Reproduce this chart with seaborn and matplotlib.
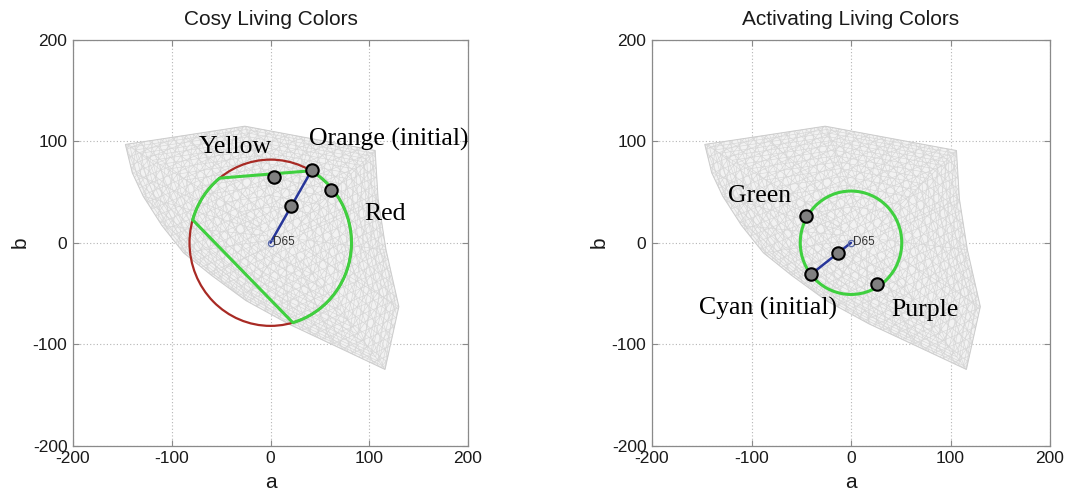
import numpy as np
import pandas as pd
import matplotlib
matplotlib.use("Agg")
import matplotlib.pyplot as plt
import seaborn as sns
from matplotlib.patches import Polygon, Arc, Circle
from matplotlib.collections import LineCollection

# ---------------- data (CIELAB a*, b*) ----------------
gamut_a = [-147, -86, -26, 40, 106, 109, 117, 130, 116, 66, 18, -25, -60, -88, -110, -129, -140]
gamut_b = [97, 106, 115, 103, 91, 43, -7, -63, -125, -102, -80, -57, -32, -10, 17, 46, 69]

# Cosy panel
cosy_pt_a = [4, 42, 61, 21]
cosy_pt_b = [65, 72, 52, 36]
cosy_label_text = ["Yellow", "Orange (initial)", "Red"]
cosy_radius = 82                 # red target hue circle
cosy_chords_deg = [[129, 60], [164, -74]]   # straight (gamut-clipped) parts of green path
cosy_initial = [42, 72]

# Activating panel
act_pt_a = [-45, -40, 26, -13]
act_pt_b = [26, -31, -41, -10]
act_label_text = ["Green", "Cyan (initial)", "Purple"]
act_radius = 51
act_initial = [-40, -31]

white_point = [0, 0]
ticks = [-200, -100, 0, 100, 200]

# ---------------- style ----------------
sns.set_style("white")
plt.rcParams["font.family"] = ["Liberation Sans", "DejaVu Sans"]
plt.rcParams["axes.unicode_minus"] = False

fig = plt.figure(figsize=(10.74, 4.93), dpi=100)
axL = fig.add_axes([73 / 1074, 47.5 / 493, 395 / 1074, 405.5 / 493])
axR = fig.add_axes([652 / 1074, 47.5 / 493, 398 / 1074, 405.5 / 493])

GRAY_POINT = "#808080"
GREEN = "#3fd03f"
RED = "#a82a24"
BLUE = "#27369a"
SERIF = ["Liberation Serif", "DejaVu Serif"]


def draw_gamut(ax):
    B = np.column_stack([gamut_a, gamut_b]).astype(float)
    poly = Polygon(B, closed=True, facecolor="#f2f2f2", edgecolor="none", zorder=1)
    ax.add_patch(poly)
    segs = []
    c = np.array([15.0, 5.0])
    for s in [1.0, 0.97, 0.94, 0.905, 0.87, 0.83, 0.785, 0.735, 0.68, 0.62, 0.55, 0.47, 0.38, 0.28]:
        P = c + s * (B - c)
        segs.append(np.vstack([P, P[:1]]))
    for v in B:
        segs.append(np.array([c + 0.15 * (v - c), v]))
    for ang in (22, 82, 142, 52, 112):
        d = np.array([np.cos(np.radians(ang)), np.sin(np.radians(ang))])
        n = np.array([-d[1], d[0]])
        for t in np.arange(-260, 260, 8.0):
            segs.append(np.array([t * n - 320 * d, t * n + 320 * d]))
    lc = LineCollection(segs, colors="#d6d6d6", linewidths=0.45, zorder=1.5)
    ax.add_collection(lc)
    lc.set_clip_path(poly)
    edge = Polygon(B, closed=True, facecolor="none", edgecolor="#cdcdcd", lw=0.7, zorder=1.6)
    ax.add_patch(edge)


def style_axes(ax, title):
    ax.set_xlim(-200, 200)
    ax.set_ylim(-200, 200)
    ax.set_xticks(ticks)
    ax.set_yticks(ticks)
    ax.grid(True, linestyle=(0, (1, 2)), color="#b5b5b5", lw=0.8)
    ax.set_axisbelow(True)
    for sp in ax.spines.values():
        sp.set_color("#8a8a8a")
        sp.set_linewidth(0.9)
        sp.set_visible(True)
    ax.tick_params(direction="in", length=4, width=0.8, color="#8a8a8a",
                   labelsize=12.5, labelcolor="#1a1a1a", pad=4,
                   top=True, right=True, bottom=True, left=True)
    ax.set_xlabel("a", fontsize=15, labelpad=5, color="#1a1a1a")
    ax.set_ylabel("b", fontsize=15, labelpad=2, color="#1a1a1a")
    ax.set_title(title, fontsize=15, pad=11, color="#1a1a1a")


def draw_white_point(ax, initial):
    df = pd.DataFrame({"a": [white_point[0], initial[0]], "b": [white_point[1], initial[1]]})
    sns.lineplot(data=df, x="a", y="b", sort=False, color=BLUE, lw=1.8, ax=ax, zorder=4)
    ax.plot(white_point[0], white_point[1], "o", ms=4.5, mfc="none", mec="#5a6aa8", mew=0.9, zorder=4.5)
    ax.text(white_point[0] + 2.5, white_point[1] + 0.5, "D65", fontsize=8.5, color="#333333",
            ha="left", va="center", zorder=6)


def draw_points(ax, xs, ys):
    sns.scatterplot(x=xs, y=ys, s=80, color=GRAY_POINT, edgecolor="black",
                    linewidth=1.5, ax=ax, zorder=7, legend=False)


# ---------------- left: Cosy ----------------
draw_gamut(axL)
axL.add_patch(Circle((0, 0), cosy_radius, fill=False, ec=RED, lw=1.6, zorder=2.5))
for d1, d2 in cosy_chords_deg:
    p1 = cosy_radius * np.array([np.cos(np.radians(d1)), np.sin(np.radians(d1))])
    p2 = cosy_radius * np.array([np.cos(np.radians(d2)), np.sin(np.radians(d2))])
    sns.lineplot(x=[p1[0], p2[0]], y=[p1[1], p2[1]], sort=False, color=GREEN, lw=2.2, ax=axL, zorder=3)
axL.add_patch(Arc((0, 0), 2 * cosy_radius, 2 * cosy_radius, theta1=cosy_chords_deg[1][1],
                  theta2=cosy_chords_deg[0][1], color=GREEN, lw=2.2, zorder=3))
axL.add_patch(Arc((0, 0), 2 * cosy_radius, 2 * cosy_radius, theta1=cosy_chords_deg[0][0],
                  theta2=cosy_chords_deg[1][0], color=GREEN, lw=2.2, zorder=3))
draw_white_point(axL, cosy_initial)
draw_points(axL, cosy_pt_a, cosy_pt_b)
cosy_label_pos = [(-36, 89), (120, 96), (116, 22)]
for txt, (x, y) in zip(cosy_label_text, cosy_label_pos):
    axL.text(x, y, txt, family=SERIF, fontsize=18.5, ha="center", va="baseline",
             color="black", zorder=8, clip_on=False)
style_axes(axL, "Cosy Living Colors")

# ---------------- right: Activating ----------------
draw_gamut(axR)
axR.add_patch(Circle((0, 0), act_radius, fill=False, ec=GREEN, lw=2.2, zorder=3))
draw_white_point(axR, act_initial)
draw_points(axR, act_pt_a, act_pt_b)
act_label_pos = [(-92, 40), (-83, -71), (74, -72)]
for txt, (x, y) in zip(act_label_text, act_label_pos):
    axR.text(x, y, txt, family=SERIF, fontsize=18.5, ha="center", va="baseline",
             color="black", zorder=8, clip_on=False)
style_axes(axR, "Activating Living Colors")

fig.savefig("out.png", dpi=100, facecolor="white")
